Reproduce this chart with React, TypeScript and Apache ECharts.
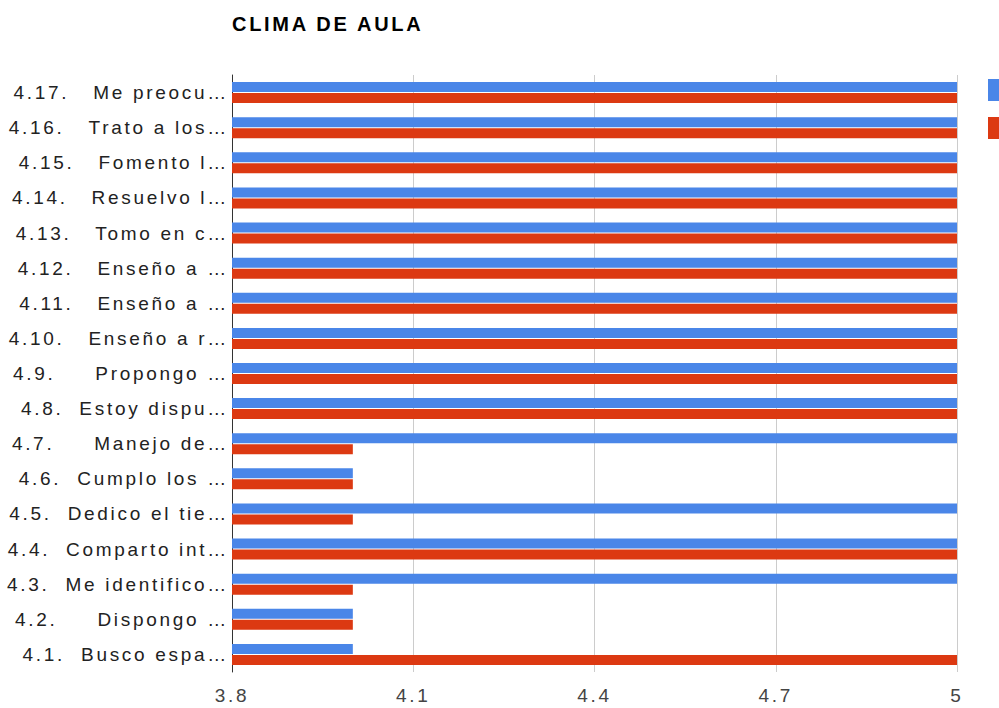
import React, { useEffect, useRef } from "react";
import * as echarts from "echarts";

const NB = "\u00a0";
const sp = (n: number) => NB.repeat(n);

// Categories listed bottom to top (ECharts category y axis starts at the bottom)
const categories: string[] = [
  "4.1." + sp(2) + "Busco espa…",
  "4.2." + sp(5) + "Dispongo …",
  "4.3." + sp(2) + "Me identifico…",
  "4.4." + sp(2) + "Comparto int…",
  "4.5." + sp(2) + "Dedico el tie…",
  "4.6." + sp(2) + "Cumplo los …",
  "4.7." + sp(5) + "Manejo de…",
  "4.8." + sp(2) + "Estoy dispu…",
  "4.9." + sp(5) + "Propongo …",
  "4.10." + sp(3) + "Enseño a r…",
  "4.11." + sp(3) + "Enseño a …",
  "4.12." + sp(3) + "Enseño a …",
  "4.13." + sp(3) + "Tomo en c…",
  "4.14." + sp(3) + "Resuelvo l…",
  "4.15." + sp(3) + "Fomento l…",
  "4.16." + sp(3) + "Trato a los…",
  "4.17." + sp(3) + "Me preocu…",
];

const seriesNames: string[] = ["Serie 1", "Serie 2"];
const blueValues: number[] = [4, 4, 5, 5, 5, 4, 5, 5, 5, 5, 5, 5, 5, 5, 5, 5, 5];
const redValues: number[] = [5, 4, 4, 5, 4, 4, 4, 5, 5, 5, 5, 5, 5, 5, 5, 5, 5];

const axisMin = 3.8;
const axisMax = 5;
const axisStep = 0.3;

const title = "CLIMA DE AULA";

export default function App() {
  const ref = useRef<HTMLDivElement>(null);

  useEffect(() => {
    if (!ref.current) return;
    const chart = echarts.init(ref.current, undefined, { renderer: "svg" });
    const shift = (v: number) => +(v - axisMin).toFixed(4);
    const font = "Arial, 'Liberation Sans', sans-serif";
    chart.setOption({
      animation: false,
      backgroundColor: "#ffffff",
      title: {
        text: title,
        left: 232,
        top: 14,
        padding: 0,
        textStyle: {
          fontFamily: font,
          fontSize: 20,
          fontWeight: "bold",
          color: "#000000",
        },
      },
      legend: {
        orient: "vertical",
        left: 983,
        top: 74,
        itemWidth: 23,
        itemHeight: 22,
        itemGap: 16,
        icon: "rect",
        formatter: () => "",
        data: seriesNames,
      },
      grid: {
        left: 232,
        right: 42,
        top: 75,
        bottom: 36,
        containLabel: false,
      },
      xAxis: {
        type: "value",
        min: 0,
        max: +(axisMax - axisMin).toFixed(4),
        interval: axisStep,
        axisLine: { show: false },
        axisTick: { show: false },
        splitLine: { show: true, lineStyle: { color: "#cccccc", width: 1 } },
        axisLabel: {
          margin: 14,
          fontFamily: font,
          fontSize: 19,
          color: "#444444",
          formatter: (v: number) => String(+(v + axisMin).toFixed(1)),
        },
      },
      yAxis: {
        type: "category",
        data: categories,
        axisLine: { show: true, lineStyle: { color: "#333333", width: 1 } },
        axisTick: { show: false },
        splitLine: { show: false },
        axisLabel: {
          margin: 3,
          fontFamily: font,
          fontSize: 19,
          color: "#222222",
          interval: 0,
        },
      },
      series: [
        {
          name: seriesNames[0],
          type: "bar",
          data: blueValues.map(shift),
          barWidth: 10,
          barGap: "10%",
          itemStyle: { color: "#4a86e8" },
        },
        {
          name: seriesNames[1],
          type: "bar",
          data: redValues.map(shift),
          barWidth: 10,
          barGap: "10%",
          itemStyle: { color: "#dc3912" },
        },
      ],
    });
    return () => chart.dispose();
  }, []);

  return (
    <>
      <style>{`.clima-chart svg text { letter-spacing: 2.7px; }`}</style>
      <div
        ref={ref}
        className="clima-chart"
        style={{
          position: "fixed",
          left: 0,
          top: 0,
          width: 999,
          height: 708,
          overflow: "hidden",
          background: "#ffffff",
        }}
      />
    </>
  );
}
